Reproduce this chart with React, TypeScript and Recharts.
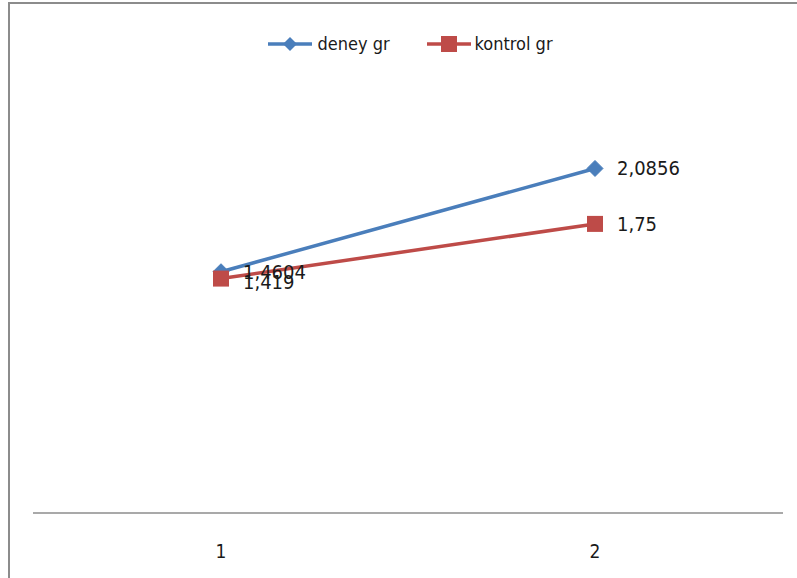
import { Line, LineChart, XAxis, YAxis, LabelList } from "recharts";

const categories = ["1", "2"];
const deneyValues = [1.4604, 2.0856];
const kontrolValues = [1.419, 1.75];
const seriesNames = ["deney gr", "kontrol gr"];

const BLUE = "#4a7ebb";
const RED = "#be4b48";
const FONT = "'DejaVu Sans Condensed', 'DejaVu Sans', sans-serif";

const data = categories.map((c, i) => ({
  cat: c,
  deney: deneyValues[i],
  kontrol: kontrolValues[i],
}));

const fmt = (v: number) => String(v).replace(".", ",");

function Diamond(props: any) {
  const { cx, cy } = props;
  if (cx == null || cy == null) return null;
  const r = 8;
  return (
    <path
      d={`M${cx},${cy - r} L${cx + r},${cy} L${cx},${cy + r} L${cx - r},${cy} Z`}
      fill={BLUE}
      stroke={BLUE}
    />
  );
}

function Square(props: any) {
  const { cx, cy } = props;
  if (cx == null || cy == null) return null;
  const r = 8;
  return <rect x={cx - r} y={cy - r} width={r * 2} height={r * 2} fill={RED} />;
}

function makeLabel(dyList: number[]) {
  return (props: any) => {
    const { x, y, value, index } = props;
    return (
      <text
        x={x + 22}
        y={y + (dyList[index] ?? 0)}
        dominantBaseline="central"
        fontFamily={FONT}
        fontSize={20}
        fill="#1a1a1a"
      >
        {fmt(value)}
      </text>
    );
  };
}

function AxisTick(props: any) {
  const { x, y, payload } = props;
  return (
    <text x={x} y={y + 30} textAnchor="middle" dominantBaseline="central" fontFamily={FONT} fontSize={19} fill="#1a1a1a">
      {payload.value}
    </text>
  );
}

function LegendBox() {
  return (
    <div
      style={{
        position: "absolute",
        top: 33,
        left: 0,
        width: 820,
        display: "flex",
        justifyContent: "center",
        gap: 36,
        fontFamily: FONT,
        fontSize: 18,
        color: "#1a1a1a",
      }}
    >
      <div style={{ display: "flex", alignItems: "center" }}>
        <svg width={46} height={18}>
          <line x1={1} y1={9} x2={45} y2={9} stroke={BLUE} strokeWidth={3.5} />
          <path d="M23,2 L30,9 L23,16 L16,9 Z" fill={BLUE} />
        </svg>
        <span style={{ marginLeft: 4 }}>{seriesNames[0]}</span>
      </div>
      <div style={{ display: "flex", alignItems: "center" }}>
        <svg width={46} height={18}>
          <line x1={1} y1={9} x2={45} y2={9} stroke={RED} strokeWidth={3.5} />
          <rect x={15} y={1} width={16} height={16} fill={RED} />
        </svg>
        <span style={{ marginLeft: 3 }}>{seriesNames[1]}</span>
      </div>
    </div>
  );
}

export default function App() {
  return (
    <div style={{ position: "absolute", left: 0, top: 0, width: 797, height: 578, background: "#fff", overflow: "hidden" }}>
      <div
        style={{
          position: "absolute",
          left: 8,
          top: 2,
          width: 800,
          height: 600,
          borderLeft: "2px solid #8c8c8c",
          borderTop: "2px solid #8c8c8c",
        }}
      />
      <LegendBox />
      <div style={{ position: "absolute", left: 0, top: 0 }}>
        <LineChart width={797} height={578} data={data} margin={{ top: 100, right: 14, left: 33, bottom: 0 }}>
          <XAxis
            dataKey="cat"
            height={65}
            padding={{ left: 188, right: 188 }}
            axisLine={{ stroke: "#8c8c8c", strokeWidth: 1.5 }}
            tickLine={false}
            tick={<AxisTick />}
          />
          <YAxis hide domain={[0, 2.5]} />
          <Line
            dataKey="deney"
            name={seriesNames[0]}
            stroke={BLUE}
            strokeWidth={3.5}
            dot={<Diamond />}
            isAnimationActive={false}
          >
            <LabelList dataKey="deney" content={makeLabel([0, 0])} />
          </Line>
          <Line
            dataKey="kontrol"
            name={seriesNames[1]}
            stroke={RED}
            strokeWidth={3.5}
            dot={<Square />}
            isAnimationActive={false}
          >
            <LabelList dataKey="kontrol" content={makeLabel([3, 0])} />
          </Line>
        </LineChart>
      </div>
    </div>
  );
}
